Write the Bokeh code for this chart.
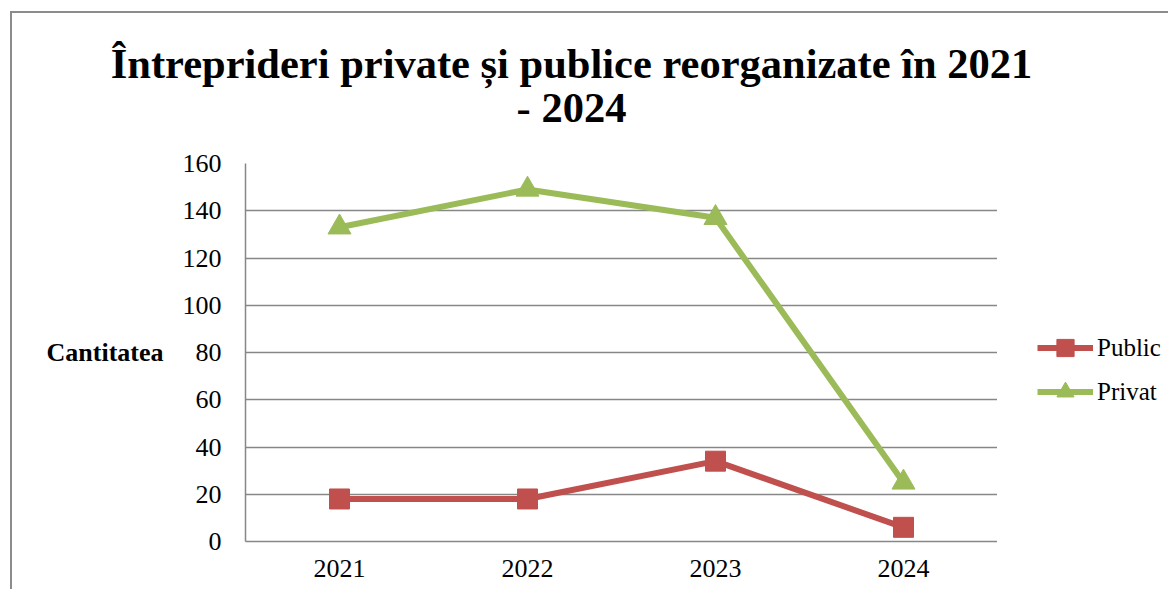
from bokeh.plotting import figure
from bokeh.layouts import row, column
from bokeh.models import (Range1d, FactorRange, FixedTicker, Legend, LegendItem, Label)
from bokeh.embed import file_html
from bokeh.resources import INLINE

years = ["2021", "2022", "2023", "2024"]
public = [18, 18, 34, 6]
privat = [133, 149, 137, 25]
y_ticks = [0, 20, 40, 60, 80, 100, 120, 140, 160]
title_lines = ["Întreprideri private și publice reorganizate în 2021", "- 2024"]
y_label = "Cantitatea"
series_names = ["Public", "Privat"]

RED = "#C0504D"
GREEN = "#9BBB59"
GRID = "#878787"
FONT = "Liberation Serif"


def blank(fig):
    fig.title = None
    fig.grid.visible = False
    fig.outline_line_color = None
    fig.border_fill_color = None
    fig.background_fill_color = None
    return fig


# ---- title strip ----
TH = 140
tf = blank(figure(width=1168, height=TH, output_backend="svg", toolbar_location=None,
                  x_axis_location=None, y_axis_location=None,
                  x_range=Range1d(0, 1), y_range=Range1d(0, 1),
                  min_border_left=0, min_border_right=0, min_border_top=0, min_border_bottom=0))
for txt, ypos in zip(title_lines, [77, 33]):
    tf.add_layout(Label(x=571, y=ypos, x_units="screen", y_units="screen", text=txt,
                        text_align="center", text_baseline="alphabetic",
                        text_font=FONT, text_font_size="42.5px", text_font_style="bold",
                        text_color="black"))

# ---- main chart ----
p = figure(width=997, height=449, output_backend="svg", toolbar_location=None,
           x_range=FactorRange(*years, range_padding=0), y_range=Range1d(0, 160),
           min_border_left=245, min_border_right=0, min_border_top=23, min_border_bottom=48)
p.title = None
p.border_fill_color = None
p.outline_line_color = None
p.background_fill_color = "white"

p.xgrid.grid_line_color = None
p.ygrid.grid_line_color = GRID
p.ygrid.grid_line_width = 1.5
p.yaxis.ticker = FixedTicker(ticks=y_ticks)

for ax in (p.xaxis[0], p.yaxis[0]):
    ax.axis_line_color = GRID
    ax.axis_line_width = 1.5
    ax.major_tick_line_color = None
    ax.minor_tick_line_color = None
    ax.major_tick_in = 0
    ax.major_tick_out = 0
    ax.minor_tick_in = 0
    ax.minor_tick_out = 0
    ax.major_label_text_font = FONT
    ax.major_label_text_font_size = "26px"
    ax.major_label_text_color = "black"

p.yaxis.major_label_standoff = 24
p.xaxis.major_label_standoff = 18
p.yaxis.axis_label = y_label
p.yaxis.axis_label_orientation = "horizontal"
p.yaxis.axis_label_text_font = FONT
p.yaxis.axis_label_text_font_size = "26px"
p.yaxis.axis_label_text_font_style = "bold"
p.yaxis.axis_label_text_color = "black"
p.yaxis.axis_label_standoff = 16

p.line(years, public, line_color=RED, line_width=6)
p.scatter(years, public, marker="square", size=20, fill_color=RED, line_color=RED)
p.line(years, privat, line_color=GREEN, line_width=6)
p.scatter(years, privat, marker="triangle", size=23, fill_color=GREEN, line_color=GREEN)

# ---- legend panel (its frame is aligned with the chart frame) ----
lg = blank(figure(width=171, height=449, output_backend="svg", toolbar_location=None,
                  x_axis_location=None, y_axis_location=None,
                  x_range=FactorRange(*years), y_range=Range1d(0, 160),
                  min_border_left=0, min_border_right=0, min_border_top=0, min_border_bottom=0))
el1 = lg.line(years, public, line_color=RED, line_width=6, visible=False)
es1 = lg.scatter(years, public, marker="square", size=20, fill_color=RED, line_color=RED, visible=False)
el2 = lg.line(years, privat, line_color=GREEN, line_width=6, visible=False)
es2 = lg.scatter(years, privat, marker="triangle", size=23, fill_color=GREEN, line_color=GREEN, visible=False)

legend = Legend(items=[LegendItem(label=series_names[0], renderers=[el1, es1]),
                       LegendItem(label=series_names[1], renderers=[el2, es2])],
                location=(40, 128), orientation="vertical",
                glyph_width=56, glyph_height=43, label_height=43, spacing=1,
                label_standoff=4, padding=0, margin=0,
                label_text_font=FONT, label_text_font_size="25px",
                label_text_color="black",
                border_line_color=None, background_fill_alpha=0,
                inactive_fill_alpha=0)
lg.add_layout(legend, "center")

layout = column(tf, row(p, lg, spacing=0), spacing=0,
                styles={"box-shadow": "inset 10px 11px 0 0 #ffffff, inset 12px 13px 0 0 #8c8c8c"})

open("out.html", "w").write(file_html(layout, INLINE))
